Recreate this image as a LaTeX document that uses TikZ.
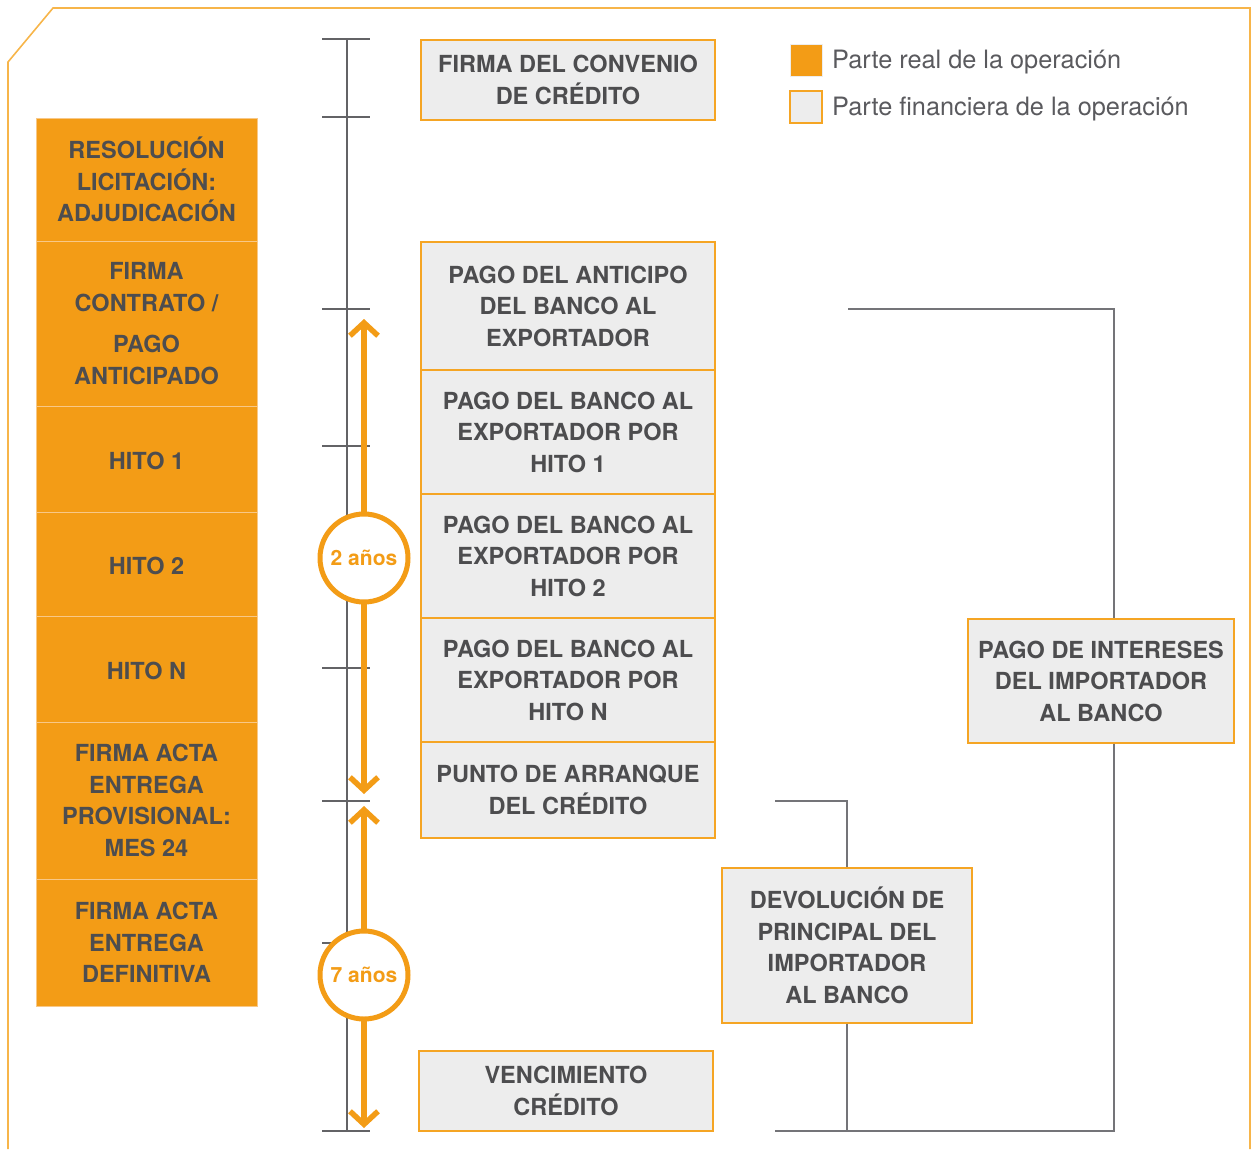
\documentclass[tikz,border=0pt]{standalone}
\usepackage{fontspec}
\setmainfont{TeX Gyre Heros}
\usetikzlibrary{arrows.meta}
\definecolor{orangeR}{HTML}{F39C16}
\definecolor{orangeLine}{HTML}{F5A524}
\definecolor{outlineC}{HTML}{F7B54A}
\definecolor{finFill}{HTML}{EDEDED}
\definecolor{txtC}{HTML}{4D4D4F}
\definecolor{legC}{HTML}{5A5A5E}
\definecolor{lineC}{HTML}{747478}
\definecolor{realEdge}{HTML}{F8C887}
\tikzset{
  realbox/.style={rectangle, fill=orangeR, draw=realEdge, line width=1pt, inner sep=0pt, align=center,
    text=txtC, font=\fontsize{23.5}{31.5}\selectfont\bfseries, execute at begin node={\rule{0pt}{22pt}}},
  finbox/.style={rectangle, fill=finFill, draw=orangeLine, line width=1.2pt, inner sep=0pt, align=center,
    text=txtC, font=\fontsize{23.5}{31.5}\selectfont\bfseries},
  conn/.style={draw=lineC, line width=1.6pt},
  tl/.style={draw=lineC!85!black, line width=1.6pt},
  arr/.style={draw=orangeR, line width=5.5pt, {Straight Barb[length=13pt,width=28pt]}-{Straight Barb[length=13pt,width=28pt]}},
  yrs/.style={circle, draw=orangeR, line width=5pt, fill=white, minimum size=88pt, inner sep=0pt,
    text=orangeR, font=\fontsize{21}{24}\selectfont\bfseries},
  legbox/.style={rectangle, minimum width=32pt, minimum height=32pt, inner sep=0pt},
  legtxt/.style={anchor=west, text=legC, font=\fontsize{25.3}{28}\selectfont, inner sep=0pt}
}
\begin{document}
\begin{tikzpicture}[x=1pt,y=-1pt]
\useasboundingbox (0,0) rectangle (1255,1149);
% outline
\draw[outlineC, line width=1.6pt] (8,1149) -- (8,62) -- (53,8) -- (1250,8) -- (1250,1149);

% left real boxes
\node[realbox, minimum width=221pt, minimum height=123pt] (r1) at (146.5,179.5) {RESOLUCIÓN\\LICITACIÓN:\\ADJUDICACIÓN};
\node[realbox, minimum width=221pt, minimum height=165pt] (r2) at (146.5,323.5) {FIRMA\\CONTRATO /\\[10pt]PAGO\\ANTICIPADO};
\node[realbox, minimum width=221pt, minimum height=106pt] (r3) at (146.5,459) {HITO 1};
\node[realbox, minimum width=221pt, minimum height=104pt] (r4) at (146.5,564) {HITO 2};
\node[realbox, minimum width=221pt, minimum height=106pt] (r5) at (146.5,669) {HITO N};
\node[realbox, minimum width=221pt, minimum height=157pt] (r6) at (146.5,800.5) {FIRMA ACTA\\ENTREGA\\PROVISIONAL:\\MES 24};
\node[realbox, minimum width=221pt, minimum height=127pt] (r7) at (146.5,942.5) {FIRMA ACTA\\ENTREGA\\DEFINITIVA};

% timeline
\coordinate (t0) at (347,39);
\coordinate (t1) at (347,1131);
\draw[tl] (t0) -- (t1);
\foreach \yy in {39,117,309,446,668,801,943,1131}{
  \draw[tl] (322,\yy) -- (370,\yy);
}

% orange arrows
\coordinate (a1s) at (364,319);
\coordinate (a1e) at (364,794);
\coordinate (a2s) at (364,806);
\coordinate (a2e) at (364,1128);
\draw[arr] (a1s) -- (a1e);
\draw[arr] (a2s) -- (a2e);
\node[yrs] (y2) at (364,558) {2 años};
\node[yrs] (y7) at (364,975) {7 años};

% financial boxes
\node[finbox, minimum width=294pt, minimum height=80pt] (f0) at (568,80) {FIRMA DEL CONVENIO\\DE CRÉDITO};
\node[finbox, minimum width=294pt, minimum height=128pt] (f1) at (568,306) {PAGO DEL ANTICIPO\\DEL BANCO AL\\EXPORTADOR};
\node[finbox, minimum width=294pt, minimum height=124pt] (f2) at (568,432) {PAGO DEL BANCO AL\\EXPORTADOR POR\\HITO 1};
\node[finbox, minimum width=294pt, minimum height=124pt] (f3) at (568,556) {PAGO DEL BANCO AL\\EXPORTADOR POR\\HITO 2};
\node[finbox, minimum width=294pt, minimum height=124pt] (f4) at (568,680) {PAGO DEL BANCO AL\\EXPORTADOR POR\\HITO N};
\node[finbox, minimum width=294pt, minimum height=96pt] (f5) at (568,790) {PUNTO DE ARRANQUE\\DEL CRÉDITO};
\node[finbox, minimum width=294pt, minimum height=80pt] (f6) at (566,1091) {VENCIMIENTO\\CRÉDITO};
\node[finbox, minimum width=250pt, minimum height=155pt] (dev) at (847,945.5) {DEVOLUCIÓN DE\\PRINCIPAL DEL\\IMPORTADOR\\AL BANCO};
\node[finbox, minimum width=266pt, minimum height=124pt] (int) at (1101,681) {PAGO DE INTERESES\\DEL IMPORTADOR\\AL BANCO};

% brackets
\coordinate (c1) at (848,309);
\coordinate (c2) at (775,1131);
\coordinate (c3) at (775,801);
\draw[conn] (c1) -| ([xshift=13pt]int.north);
\draw[conn] ([xshift=13pt]int.south) |- (c2);
\draw[conn] (c3) -| (dev.north);
\draw[conn] (dev.south) -- (dev.south |- c2);

% legend
\node[legbox, fill=orangeR, draw=finFill, line width=1pt] (l1) at (806,60) {};
\node[legbox, fill=finFill, draw=orangeLine, line width=1.2pt] (l2) at (806,107) {};
\node[legtxt] (lt1) at (832,62) {Parte real de la operación};
\node[legtxt] (lt2) at (832,109) {Parte financiera de la operación};
\end{tikzpicture}
\end{document}
